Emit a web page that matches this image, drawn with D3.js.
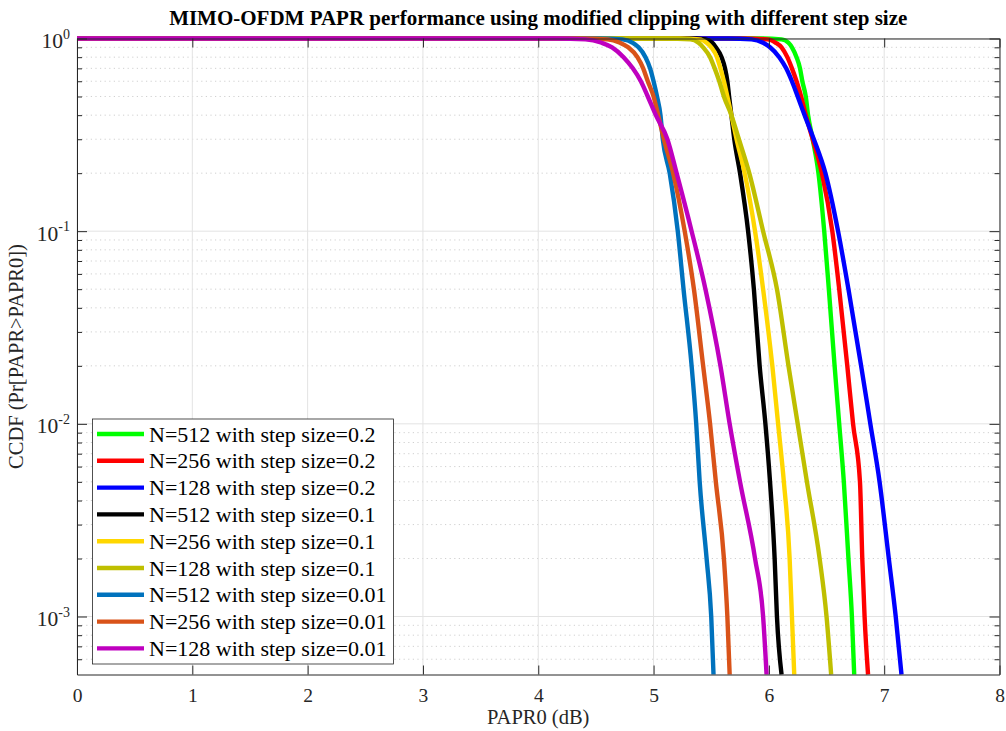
<!DOCTYPE html>
<html>
<head>
<meta charset="utf-8">
<script src="https://cdn.jsdelivr.net/npm/d3@7"></script>
<style>
  html, body { margin: 0; padding: 0; background: #fff; }
  svg { display: block; }
  text { font-family: "Liberation Serif", "Times New Roman", serif; }
</style>
</head>
<body>
<svg id="chart" width="1006" height="731"></svg>
<script>
// CCDF levels at which each curve's PAPR0 is listed (first entry: where it leaves 1)
const ccdfLevels = [1, 0.99, 0.95, 0.9, 0.8, 0.7, 0.6, 0.5, 0.4, 0.3, 0.2, 0.1, 0.05, 0.02, 0.01, 0.005, 0.002, 0.001, 0.0005];

// PAPR0 (dB) per series at each level above
const papr512s02  = [5.94, 6.11, 6.17, 6.20, 6.24, 6.27, 6.29, 6.32, 6.34, 6.38, 6.43, 6.48, 6.52, 6.57, 6.61, 6.65, 6.69, 6.72, 6.74];
const papr256s02  = [5.79, 5.99, 6.06, 6.11, 6.16, 6.20, 6.24, 6.28, 6.32, 6.38, 6.46, 6.55, 6.61, 6.68, 6.73, 6.79, 6.81, 6.83, 6.86];
const papr128s02  = [5.65, 5.85, 5.95, 6.01, 6.09, 6.15, 6.20, 6.25, 6.31, 6.39, 6.49, 6.60, 6.69, 6.80, 6.88, 6.96, 7.04, 7.10, 7.15];
const papr512s01  = [5.32, 5.45, 5.51, 5.54, 5.59, 5.62, 5.64, 5.655, 5.675, 5.70, 5.75, 5.82, 5.87, 5.92, 5.97, 6.01, 6.05, 6.07, 6.11];
const papr256s01  = [5.23, 5.40, 5.46, 5.50, 5.55, 5.58, 5.61, 5.64, 5.675, 5.72, 5.79, 5.88, 5.95, 6.03, 6.08, 6.13, 6.18, 6.20, 6.22];
const papr128s01  = [5.10, 5.32, 5.39, 5.43, 5.49, 5.53, 5.57, 5.61, 5.675, 5.74, 5.83, 5.95, 6.07, 6.17, 6.25, 6.33, 6.44, 6.50, 6.54];
const papr512s001 = [4.52, 4.73, 4.82, 4.87, 4.93, 4.97, 5.00, 5.03, 5.06, 5.08, 5.14, 5.21, 5.26, 5.33, 5.37, 5.40, 5.46, 5.50, 5.52];
const papr256s001 = [4.36, 4.60, 4.71, 4.78, 4.86, 4.91, 4.95, 5.00, 5.04, 5.09, 5.17, 5.27, 5.35, 5.43, 5.49, 5.54, 5.61, 5.64, 5.66];
const papr128s001 = [4.15, 4.41, 4.55, 4.64, 4.74, 4.82, 4.89, 4.95, 5.02, 5.12, 5.20, 5.33, 5.45, 5.58, 5.66, 5.75, 5.88, 5.95, 5.98];

const seriesNames = [
  "N=512 with step size=0.2", "N=256 with step size=0.2", "N=128 with step size=0.2",
  "N=512 with step size=0.1", "N=256 with step size=0.1", "N=128 with step size=0.1",
  "N=512 with step size=0.01", "N=256 with step size=0.01", "N=128 with step size=0.01"
];
const seriesPapr = [papr512s02, papr256s02, papr128s02, papr512s01, papr256s01, papr128s01, papr512s001, papr256s001, papr128s001];
const seriesColors = ["#00ff00", "#ff0000", "#0000ff", "#000000", "#ffd700", "#bfbf00", "#0072bd", "#d95319", "#bf00bf"];

const xTicks = [0, 1, 2, 3, 4, 5, 6, 7, 8];
const yMajorExp = [0, -1, -2, -3];

const titleText = "MIMO-OFDM PAPR performance using modified clipping with different step size";
const xLabelText = "PAPR0 (dB)";
const yLabelText = "CCDF (Pr[PAPR>PAPR0])";

// ---- layout ----
const svg = d3.select("#chart");
const L = 77, R = 999.5, T = 38.5, B = 674.5;
const x = d3.scaleLinear().domain([0, 8]).range([L, R]);
const y = d3.scaleLog().domain([0.0005, 1]).range([B, T]);
const axisColor = "#262626";

// minor y values (2..9 x decade) inside the domain
const yMinor = [];
for (let e = -4; e <= 0; e++) {
  for (let m = 2; m <= 9; m++) {
    const v = m * Math.pow(10, e);
    if (v > 0.0005 && v < 1) yMinor.push(v);
  }
}
const yMajor = yMajorExp.map(e => Math.pow(10, e));

// ---- grid ----
const grid = svg.append("g");
grid.selectAll(".ming").data(yMinor).join("line")
  .attr("x1", L).attr("x2", R)
  .attr("y1", d => y(d)).attr("y2", d => y(d))
  .attr("stroke", "#c4c4c4").attr("stroke-width", 0.8)
  .attr("stroke-dasharray", "1.2,3.4");
grid.selectAll(".majy").data(yMajor).join("line")
  .attr("x1", L).attr("x2", R)
  .attr("y1", d => y(d)).attr("y2", d => y(d))
  .attr("stroke", "#e3e3e3").attr("stroke-width", 1);
grid.selectAll(".majx").data(xTicks).join("line")
  .attr("x1", d => x(d)).attr("x2", d => x(d))
  .attr("y1", T).attr("y2", B)
  .attr("stroke", "#e3e3e3").attr("stroke-width", 1);

// ---- curves ----
const line = d3.line()
  .x(d => x(d[0]))
  .y(d => y(d[1]))
  .curve(d3.curveMonotoneX);

const curves = seriesPapr.map(arr => [[0, 1]].concat(arr.map((p, i) => [p, ccdfLevels[i]])));

svg.append("g").selectAll("path").data(curves).join("path")
  .attr("d", line)
  .attr("fill", "none")
  .attr("stroke", (d, i) => seriesColors[i])
  .attr("stroke-width", 4.4)
  .attr("stroke-linejoin", "round");

// ---- axes box and ticks ----
const ax = svg.append("g");
const xAxisB = d3.axisBottom(x).tickValues(xTicks).tickSizeInner(-9).tickSizeOuter(0).tickPadding(18).tickFormat(d3.format("d"));
const gx = ax.append("g").attr("transform", `translate(0,${B})`).call(xAxisB);
gx.select(".domain").attr("stroke", axisColor);
gx.selectAll(".tick line").attr("stroke", axisColor);
gx.selectAll(".tick text").attr("fill", axisColor).attr("font-size", 19.5).attr("dy", "0.5em");

const xAxisT = d3.axisTop(x).tickValues(xTicks).tickSizeInner(-9).tickSizeOuter(0).tickFormat("");
const gxt = ax.append("g").attr("transform", `translate(0,${T})`).call(xAxisT);
gxt.select(".domain").attr("stroke", axisColor);
gxt.selectAll(".tick line").attr("stroke", axisColor);

function yAxisSide(axisFn, xpos) {
  const gMaj = ax.append("g").attr("transform", `translate(${xpos},0)`)
    .call(axisFn(y).tickValues(yMajor).tickSizeInner(-10).tickSizeOuter(0).tickFormat(""));
  gMaj.select(".domain").attr("stroke", axisColor);
  gMaj.selectAll(".tick line").attr("stroke", axisColor);
  const gMin = ax.append("g").attr("transform", `translate(${xpos},0)`)
    .call(axisFn(y).tickValues(yMinor).tickSizeInner(-5).tickSizeOuter(0).tickFormat(""));
  gMin.select(".domain").remove();
  gMin.selectAll(".tick line").attr("stroke", axisColor);
}
yAxisSide(d3.axisLeft, L);
yAxisSide(d3.axisRight, R);

// y tick labels as 10^k
const ylab = ax.append("g").selectAll("text").data(yMajorExp).join("text")
  .attr("x", 70)
  .attr("y", d => y(Math.pow(10, d)) + 9.5)
  .attr("text-anchor", "end")
  .attr("fill", axisColor)
  .attr("font-size", 21.5);
ylab.append("tspan").text("10");
ylab.append("tspan").attr("font-size", 14).attr("dy", -9.5).text(d => String(d));

// ---- labels ----
svg.append("text")
  .attr("x", (L + R) / 2).attr("y", 25)
  .attr("text-anchor", "middle")
  .attr("font-weight", "bold").attr("font-size", 21)
  .attr("fill", "#000")
  .text(titleText);

svg.append("text")
  .attr("x", (L + R) / 2).attr("y", 724)
  .attr("text-anchor", "middle")
  .attr("font-size", 20.5).attr("fill", axisColor)
  .text(xLabelText);

svg.append("text")
  .attr("transform", `translate(23,${(T + B) / 2}) rotate(-90)`)
  .attr("text-anchor", "middle")
  .attr("font-size", 20.5).attr("fill", axisColor)
  .text(yLabelText);

// ---- legend ----
const lg = svg.append("g");
lg.append("rect")
  .attr("x", 92.5).attr("y", 419).attr("width", 301).attr("height", 245)
  .attr("fill", "#fff").attr("stroke", axisColor).attr("stroke-width", 0.8);
const rowY = i => 434 + i * 26.8;
seriesNames.forEach((name, i) => {
  lg.append("line")
    .attr("x1", 97).attr("x2", 144)
    .attr("y1", rowY(i)).attr("y2", rowY(i))
    .attr("stroke", seriesColors[i]).attr("stroke-width", 4.4);
  lg.append("text")
    .attr("x", 149).attr("y", rowY(i) + 7.5)
    .attr("font-size", 22).attr("fill", "#000")
    .text(name);
});
</script>
</body>
</html>
